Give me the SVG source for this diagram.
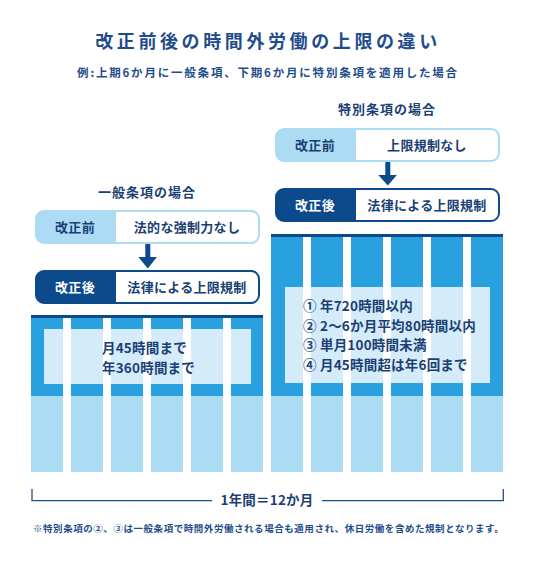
<svg xmlns="http://www.w3.org/2000/svg" width="536" height="576" viewBox="0 0 536 576">
<defs>
<style>
text{font-family:"Noto Sans CJK JP","Noto Sans",sans-serif;font-weight:bold;fill:#1b3f74}
.title{font-size:18px;letter-spacing:3.6px;fill:#1f4d8c}
.sub{font-size:11.5px;letter-spacing:1.8px;fill:#1f4d8c}
.head{font-size:13px;letter-spacing:1px}
.bx{font-size:13px;letter-spacing:0.3px}
.wt{fill:#ffffff}
.body{font-size:13.5px;letter-spacing:0.2px}
.foot{font-size:9.5px;letter-spacing:0.55px;fill:#1f4d8c}
.med{fill:#29a1df}
.lt{fill:#abdcf4}
.dk{fill:#0d4a8c}
.ov{fill:#ffffff;fill-opacity:0.8}
.outl{fill:none;stroke:#abdcf4;stroke-width:2}
.outd{fill:none;stroke:#0d4a8c;stroke-width:2}
.axis{fill:none;stroke:#1f4d8c;stroke-width:1.3}
</style>
</defs>
<rect width="536" height="576" fill="#ffffff"/>

<g id="title">
<text class="title" x="268" y="48" text-anchor="middle">改正前後の時間外労働の上限の違い</text>
<text class="sub" x="268" y="77" text-anchor="middle">例:上期6か月に一般条項、下期6か月に特別条項を適用した場合</text>
</g>

<g id="chart-left">
<rect class="dk" x="31" y="315" width="232" height="3"/>
<g>
<rect class="med" x="31" y="318" width="32" height="78"/><rect class="lt" x="31" y="396" width="32" height="76"/>
<rect class="med" x="71" y="318" width="32" height="78"/><rect class="lt" x="71" y="396" width="32" height="76"/>
<rect class="med" x="111" y="318" width="32" height="78"/><rect class="lt" x="111" y="396" width="32" height="76"/>
<rect class="med" x="151" y="318" width="32" height="78"/><rect class="lt" x="151" y="396" width="32" height="76"/>
<rect class="med" x="191" y="318" width="32" height="78"/><rect class="lt" x="191" y="396" width="32" height="76"/>
<rect class="med" x="231" y="318" width="32" height="78"/><rect class="lt" x="231" y="396" width="32" height="76"/>
</g>
<rect class="ov" x="44" y="329" width="207" height="55"/>
<text class="body" x="102" y="353">月45時間まで</text>
<text class="body" x="102" y="373">年360時間まで</text>
</g>

<g id="chart-right">
<rect class="dk" x="271" y="234" width="232" height="3"/>
<g>
<rect class="med" x="271" y="237" width="32" height="159"/><rect class="lt" x="271" y="396" width="32" height="76"/>
<rect class="med" x="311" y="237" width="32" height="159"/><rect class="lt" x="311" y="396" width="32" height="76"/>
<rect class="med" x="351" y="237" width="32" height="159"/><rect class="lt" x="351" y="396" width="32" height="76"/>
<rect class="med" x="391" y="237" width="32" height="159"/><rect class="lt" x="391" y="396" width="32" height="76"/>
<rect class="med" x="431" y="237" width="32" height="159"/><rect class="lt" x="431" y="396" width="32" height="76"/>
<rect class="med" x="471" y="237" width="32" height="159"/><rect class="lt" x="471" y="396" width="32" height="76"/>
</g>
<rect class="ov" x="285" y="287" width="205" height="96"/>
<text class="body" x="303" y="311">① 年720時間以内</text>
<text class="body" x="303" y="331">② 2～6か月平均80時間以内</text>
<text class="body" x="303" y="350">③ 単月100時間未満</text>
<text class="body" x="303" y="370">④ 月45時間超は年6回まで</text>
</g>

<g id="left-heading">
<text class="head" x="147" y="197" text-anchor="middle">一般条項の場合</text>
</g>

<g id="left-before">
<rect x="36" y="211" width="223" height="32" rx="8" fill="#ffffff"/>
<path class="lt" d="M44 211 H116 V243 H44 A8 8 0 0 1 36 235 V219 A8 8 0 0 1 44 211 Z"/>
<rect class="outl" x="36" y="211" width="223" height="32" rx="8"/>
<text class="bx" x="75" y="232" text-anchor="middle">改正前</text>
<text class="bx" x="187" y="232" text-anchor="middle">法的な強制力なし</text>
</g>

<g id="left-after">
<rect x="36" y="271" width="223" height="32" rx="8" fill="#ffffff"/>
<path class="dk" d="M44 271 H116 V303 H44 A8 8 0 0 1 36 295 V279 A8 8 0 0 1 44 271 Z"/>
<rect class="outd" x="36" y="271" width="223" height="32" rx="8"/>
<text class="bx wt" x="75" y="292" text-anchor="middle">改正後</text>
<text class="bx" x="187" y="292" text-anchor="middle">法律による上限規制</text>
</g>

<g id="right-heading">
<text class="head" x="387" y="114" text-anchor="middle">特別条項の場合</text>
</g>

<g id="right-before">
<rect x="276" y="129" width="223" height="32" rx="8" fill="#ffffff"/>
<path class="lt" d="M284 129 H356 V161 H284 A8 8 0 0 1 276 153 V137 A8 8 0 0 1 284 129 Z"/>
<rect class="outl" x="276" y="129" width="223" height="32" rx="8"/>
<text class="bx" x="315" y="150" text-anchor="middle">改正前</text>
<text class="bx" x="427" y="150" text-anchor="middle">上限規制なし</text>
</g>

<g id="right-after">
<rect x="276" y="189" width="223" height="32" rx="8" fill="#ffffff"/>
<path class="dk" d="M284 189 H356 V221 H284 A8 8 0 0 1 276 213 V197 A8 8 0 0 1 284 189 Z"/>
<rect class="outd" x="276" y="189" width="223" height="32" rx="8"/>
<text class="bx wt" x="315" y="210" text-anchor="middle">改正後</text>
<text class="bx" x="427" y="210" text-anchor="middle">法律による上限規制</text>
</g>

<g id="connectors">
<rect class="dk" x="145.3" y="244" width="5" height="13"/>
<polygon class="dk" points="138.3,257 156.9,257 147.8,268.5"/>
<rect class="dk" x="385.3" y="162" width="5" height="13"/>
<polygon class="dk" points="378.3,175 396.9,175 387.8,185.5"/>
</g>

<g id="axis">
<path class="axis" d="M32 489 V500.7 H212 M322 500.7 H503.3 V489"/>
<text class="body" x="267" y="505" text-anchor="middle">1年間＝12か月</text>
</g>

<g id="footnote">
<text class="foot" x="33" y="532">※特別条項の②、③は一般条項で時間外労働される場合も適用され、休日労働を含めた規制となります。</text>
</g>
</svg>
